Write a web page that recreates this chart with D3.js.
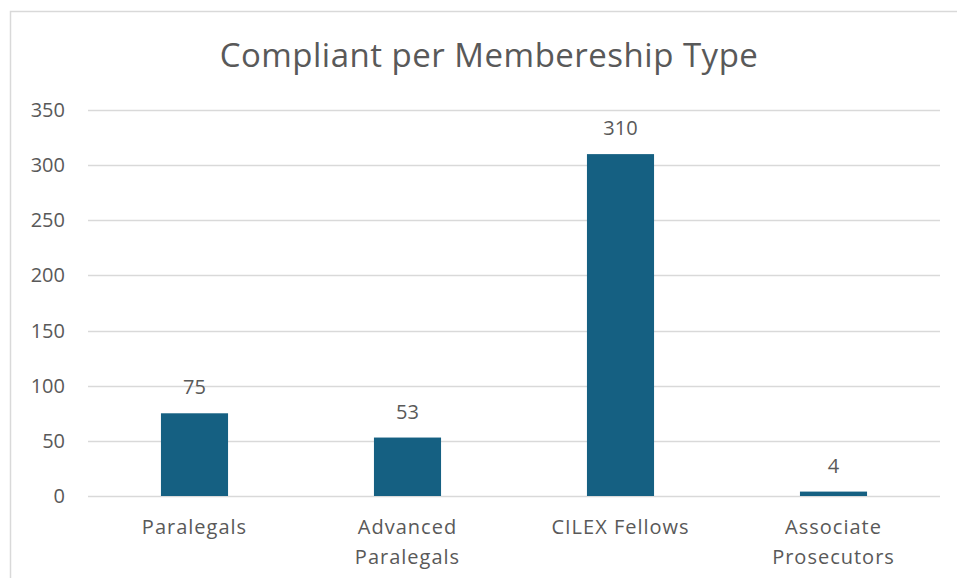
<!DOCTYPE html>
<head>
    <meta charset='utf-8'>
    <title>Compliant per Membereship Type</title>
    <script src='https://d3js.org/d3.v7.min.js'></script>
    <style>
        html, body {
            margin: 0px;
            padding: 0px;
            background: white;
        }
        svg text {
            font-family: 'Open Sans', sans-serif;
            fill: #595959;
        }
    </style>
</head>
<body>
    <svg id='chart' width='957' height='578'></svg>
    <script>
        // data
        var categories = [['Paralegals'], ['Advanced', 'Paralegals'], ['CILEX Fellows'], ['Associate', 'Prosecutors']];
        var values = [75, 53, 310, 4];
        var yTicks = [0, 50, 100, 150, 200, 250, 300, 350];

        var svg = d3.select('#chart');

        // chart frame (left and top edges visible)
        svg.append('path')
            .attr('d', 'M10.5,578 L10.5,11.5 L957,11.5')
            .attr('fill', 'none')
            .attr('stroke', '#d9d9d9')
            .attr('stroke-width', 1.5);

        var margin = {left: 88, right: 17, top: 110, bottom: 82};
        var width = 957 - margin.left - margin.right;

        var x = d3.scaleBand()
            .domain(d3.range(values.length))
            .range([margin.left, margin.left + width])
            .paddingInner(0.685)
            .paddingOuter(0.3425);

        var y = d3.scaleLinear()
            .domain([0, 350])
            .range([496, 110]);

        svg.append('text')
            .attr('x', 489)
            .attr('y', 67)
            .attr('text-anchor', 'middle')
            .style('font-size', '33px')
            .style('letter-spacing', '0.5px')
            .text('Compliant per Membereship Type');

        // gridlines
        svg.append('g')
            .selectAll('line')
            .data(yTicks)
            .enter()
            .append('line')
            .attr('x1', margin.left)
            .attr('x2', margin.left + width)
            .attr('y1', function(d) { return Math.round(y(d)) + 0.5; })
            .attr('y2', function(d) { return Math.round(y(d)) + 0.5; })
            .attr('stroke', '#d9d9d9')
            .attr('stroke-width', 1.5);

        // y labels
        svg.append('g')
            .selectAll('text')
            .data(yTicks)
            .enter()
            .append('text')
            .attr('x', 65)
            .attr('y', function(d) { return y(d); })
            .attr('dy', '0.35em')
            .attr('text-anchor', 'end')
            .style('font-size', '20px')
            .text(function(d) { return d; });

        svg.append('g')
            .selectAll('rect')
            .data(values)
            .enter()
            .append('rect')
            .attr('x', function(d, i) { return x(i); })
            .attr('width', x.bandwidth())
            .attr('y', function(d) { return y(d); })
            .attr('height', function(d) { return y(0) - y(d); })
            .attr('fill', '#156082');

        // value labels
        svg.append('g')
            .selectAll('text')
            .data(values)
            .enter()
            .append('text')
            .attr('x', function(d, i) { return x(i) + x.bandwidth() / 2; })
            .attr('y', function(d) { return y(d) - 19; })
            .attr('text-anchor', 'middle')
            .style('font-size', '20px')
            .text(function(d) { return d; });

        // category labels
        var cat = svg.append('g')
            .selectAll('text')
            .data(categories)
            .enter()
            .append('text')
            .attr('x', function(d, i) { return x(i) + x.bandwidth() / 2; })
            .attr('y', 534)
            .attr('text-anchor', 'middle')
            .style('font-size', '20px')
            .style('letter-spacing', '1px');

        cat.selectAll('tspan')
            .data(function(d) { return d; })
            .enter()
            .append('tspan')
            .attr('x', function() { return d3.select(this.parentNode).attr('x'); })
            .attr('dy', function(d, i) { return i == 0 ? 0 : 30; })
            .text(function(d) { return d; });
    </script>
</body>
